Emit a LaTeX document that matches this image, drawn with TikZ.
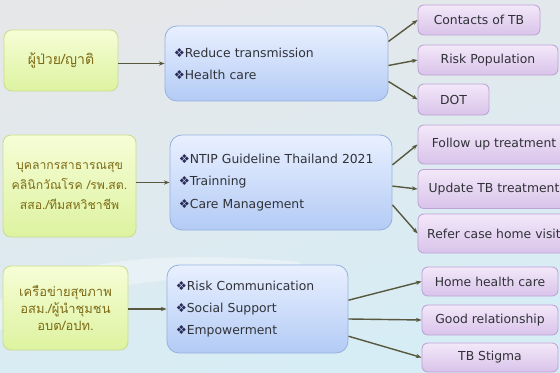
\documentclass[tikz,border=0pt]{standalone}
\usepackage{fontspec}
\setmainfont{DejaVu Sans}
\newfontfamily\thaifont[Script=Thai]{Loma}
\usetikzlibrary{arrows.meta, positioning, calc}
\definecolor{bgTop}{HTML}{E6E7E9}
\definecolor{bgBottom}{HTML}{D6EDF6}
\definecolor{greenTop}{HTML}{F6FDD6}
\definecolor{greenBottom}{HTML}{DDF3A0}
\definecolor{greenLine}{HTML}{C9DC8E}
\definecolor{blueTop}{HTML}{E9F0FF}
\definecolor{blueBottom}{HTML}{B3CBF5}
\definecolor{blueLine}{HTML}{97B2E0}
\definecolor{purpleTop}{HTML}{F3E8F9}
\definecolor{purpleBottom}{HTML}{D9C3EA}
\definecolor{purpleLine}{HTML}{BDA3D6}
\definecolor{thaiColor}{HTML}{7D6B17}
\definecolor{textColor}{HTML}{303238}
\definecolor{lineColor}{HTML}{58583E}

\newcommand{\bul}{{\color{textColor!85!blue}\char"2756}}

\begin{document}
\begin{tikzpicture}[
    x=0.025cm, y=-0.025cm,
    % Box Styles
    base/.style={
        draw,
        align=center,
        inner sep=0pt,
        line width=0.6pt
    },
    groupBox/.style={
        base,
        draw=greenLine,
        top color=greenTop,
        bottom color=greenBottom,
        rounded corners=0.2cm,
        text=thaiColor,
        font=\thaifont\fontsize{10}{14.3}\selectfont
    },
    goalBox/.style={
        base,
        draw=blueLine,
        top color=blueTop,
        bottom color=blueBottom,
        rounded corners=0.3cm,
        align=left,
        inner xsep=0.22cm,
        text=textColor,
        font=\fontsize{8.8}{15.8}\selectfont
    },
    itemBox/.style={
        base,
        draw=purpleLine,
        top color=purpleTop,
        bottom color=purpleBottom,
        rounded corners=0.15cm,
        text=textColor,
        font=\fontsize{8.8}{11}\selectfont
    },
    % Line Styles
    connector/.style={
        -{Stealth[length=4pt,width=3pt]},
        line width=1pt,
        color=lineColor
    }
]

    % --- BACKGROUND ---
    \shade[top color=bgTop, bottom color=bgBottom, shading angle=15]
        (0,0) rectangle (560,373);
    \fill[white, opacity=0.35] (0,300) .. controls (60,260) and (160,250) .. (300,262)
        -- (300,280) .. controls (160,270) and (60,290) .. (0,330) -- cycle;
    \useasboundingbox (0,0) rectangle (560,373);

    % --- ROW 1: PATIENTS ---
    \node[groupBox, minimum width=2.85cm, minimum height=1.525cm] (g1) at (61,60.5)
        {ผู้ป่วย/ญาติ};
    \node[goalBox, minimum width=5.575cm, minimum height=1.875cm,
          text width=5.135cm] (b1) at (276.5,63.5)
        {\bul Reduce transmission\\\bul Health care};
    \node[itemBox, minimum width=3.05cm, minimum height=0.75cm] (p1) at (479,20) {Contacts of TB};
    \node[itemBox, minimum width=3.5cm, minimum height=0.75cm] (p2) at (488,60) {Risk Population};
    \node[itemBox, minimum width=1.775cm, minimum height=0.775cm] (p3) at (453.5,99.5) {DOT};

    % --- ROW 2: HEALTH STAFF ---
    \node[groupBox, minimum width=3.325cm, minimum height=2.55cm,
          font=\thaifont\fontsize{8.7}{14.2}\selectfont] (g2) at (69.5,186)
        {บุคลากรสาธารณสุข\\คลินิกวัณโรค /รพ.สต.\\สสอ./ทีมสหวิชาชีพ};
    \node[goalBox, minimum width=5.55cm, minimum height=2.375cm,
          text width=5.11cm] (b2) at (281,182.5)
        {\bul NTIP Guideline Thailand 2021\\\bul Trainning\\\bul Care Management};
    \node[itemBox, minimum width=3.8cm, minimum height=0.975cm] (p4) at (494,144.5) {Follow up treatment};
    \node[itemBox, minimum width=3.8cm, minimum height=0.975cm] (p5) at (494,189) {Update TB treatment};
    \node[itemBox, minimum width=3.8cm, minimum height=0.975cm] (p6) at (494,233.5) {Refer case home visit};

    % --- ROW 3: COMMUNITY NETWORK ---
    \node[groupBox, minimum width=3.125cm, minimum height=2.1cm,
          font=\thaifont\fontsize{9.2}{12}\selectfont] (g3) at (65.5,308)
        {เครือข่ายสุขภาพ\\อสม./ผู้นำชุมชน\\อบต/อปท.};
    \node[goalBox, minimum width=4.525cm, minimum height=2.2cm,
          text width=4.085cm] (b3) at (257.5,309)
        {\bul Risk Communication\\\bul Social Support\\\bul Empowerment};
    \node[itemBox, minimum width=3.4cm, minimum height=0.725cm] (p7) at (490,281.5) {Home health care};
    \node[itemBox, minimum width=3.4cm, minimum height=0.75cm] (p8) at (490,320) {Good relationship};
    \node[itemBox, minimum width=3.4cm, minimum height=0.725cm] (p9) at (490,357.5) {TB Stigma};

    % --- CONNECTIONS ---

    % 1. Groups -> goals
    \draw[connector] (g1.east |- b1.west) -- (b1.west);
    \draw[connector] (g2.east |- b2.west) -- (b2.west);
    \draw[connector] (g3.east |- b3.west) -- (b3.west);

    % 2. Goals -> items
    \draw[connector] ([yshift=0.55cm]b1.east) -- (p1.west);
    \draw[connector] ([yshift=-0.05cm]b1.east) -- (p2.west);
    \draw[connector] ([yshift=-0.45cm]b1.east) -- (p3.west);

    \draw[connector] ([yshift=0.44cm]b2.east) -- (p4.west);
    \draw[connector] ([yshift=-0.09cm]b2.east) -- (p5.west);
    \draw[connector] ([yshift=-0.56cm]b2.east) -- (p6.west);

    \draw[connector] ([yshift=0.22cm]b3.east) -- (p7.west);
    \draw[connector] ([yshift=-0.25cm]b3.east) -- (p8.west);
    \draw[connector] ([yshift=-0.68cm]b3.east) -- (p9.west);

\end{tikzpicture}
\end{document}
